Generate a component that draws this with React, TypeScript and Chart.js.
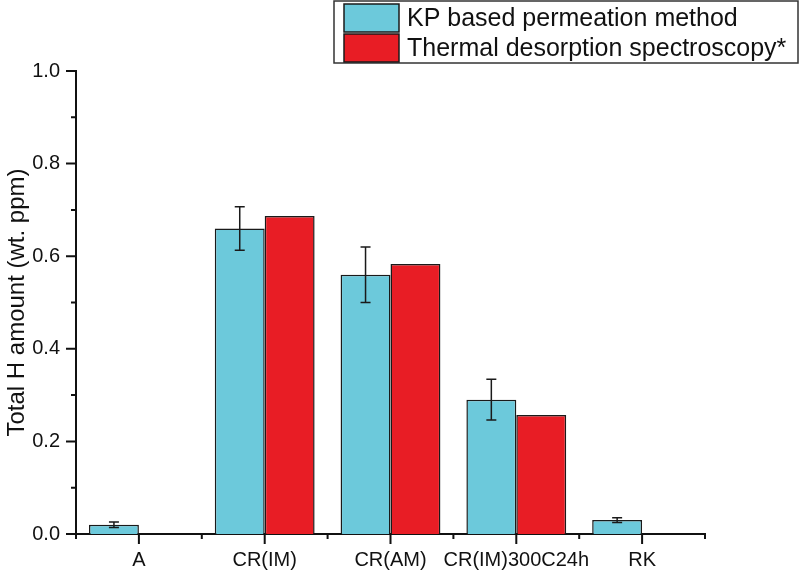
import React, { useEffect, useRef } from "react";
import { Chart, registerables } from "chart.js";

Chart.register(...registerables);

const categories = ["A", "CR(IM)", "CR(AM)", "CR(IM)300C24h", "RK"];
const kpValues = [0.02, 0.66, 0.56, 0.29, 0.03];
const kpErrors = [0.006, 0.047, 0.06, 0.044, 0.005];
const tdsValues: (number | null)[] = [null, 0.687, 0.583, 0.257, null];
const seriesLabels = ["KP based permeation method", "Thermal desorption spectroscopy*"];
const yTickValues = [0, 0.2, 0.4, 0.6, 0.8, 1.0];

const BLUE = "#6CC9DB";
const RED = "#E81D25";
const EDGE = "#1a1a1a";
const FONT = "'Liberation Sans', Arial, sans-serif";

const errorBarPlugin = {
  id: "errorBars",
  afterDatasetsDraw(chart: any) {
    const ctx = chart.ctx;
    const y = chart.scales.y;
    chart.data.datasets.forEach((ds: any, di: number) => {
      if (!ds.errors) return;
      const meta = chart.getDatasetMeta(di);
      meta.data.forEach((bar: any, i: number) => {
        const v = ds.data[i];
        const e = ds.errors[i];
        if (v == null || e == null) return;
        const yTop = y.getPixelForValue(v + e);
        const yBot = y.getPixelForValue(v - e);
        const x = bar.x;
        ctx.save();
        ctx.strokeStyle = EDGE;
        ctx.lineWidth = 1.5;
        ctx.beginPath();
        ctx.moveTo(x, yTop);
        ctx.lineTo(x, yBot);
        ctx.moveTo(x - 5, yTop);
        ctx.lineTo(x + 5, yTop);
        ctx.moveTo(x - 5, yBot);
        ctx.lineTo(x + 5, yBot);
        ctx.stroke();
        ctx.restore();
      });
    });
  },
};

const axisTicksPlugin = {
  id: "axisTicks",
  afterDraw(chart: any) {
    const ctx = chart.ctx;
    const xs = chart.scales.x;
    const ys = chart.scales.y;
    const area = chart.chartArea;
    ctx.save();
    ctx.strokeStyle = "#111";
    ctx.lineWidth = 2;
    ctx.beginPath();
    for (let i = 0; i < yTickValues.length; i++) {
      const py = ys.getPixelForValue(yTickValues[i]);
      ctx.moveTo(area.left - 10, py);
      ctx.lineTo(area.left, py);
      if (i < yTickValues.length - 1) {
        const pm = ys.getPixelForValue((yTickValues[i] + yTickValues[i + 1]) / 2);
        ctx.moveTo(area.left - 5, pm);
        ctx.lineTo(area.left, pm);
      }
    }
    for (let i = 0; i < categories.length; i++) {
      const px = xs.getPixelForValue(i);
      ctx.moveTo(px, area.bottom);
      ctx.lineTo(px, area.bottom + 10);
    }
    for (let i = 0; i <= categories.length; i++) {
      const px = xs.getPixelForValue(i - 0.5);
      ctx.moveTo(px, area.bottom);
      ctx.lineTo(px, area.bottom + 5);
    }
    ctx.stroke();
    ctx.restore();
  },
};

const boxLegendPlugin = {
  id: "boxLegend",
  afterDraw(chart: any) {
    const ctx = chart.ctx;
    const left = 334;
    const top = 1;
    const right = 798;
    const bottom = 63;
    ctx.save();
    ctx.fillStyle = "#fff";
    ctx.fillRect(left, top, right - left, bottom - top);
    ctx.strokeStyle = "#333";
    ctx.lineWidth = 1.5;
    ctx.strokeRect(left, top, right - left, bottom - top);
    const colors = [BLUE, RED];
    const rowTops = [4, 34];
    ctx.font = `25px ${FONT}`;
    ctx.textBaseline = "middle";
    ctx.textAlign = "left";
    for (let i = 0; i < 2; i++) {
      ctx.fillStyle = colors[i];
      ctx.fillRect(344, rowTops[i], 55, 28);
      ctx.strokeStyle = EDGE;
      ctx.lineWidth = 1.5;
      ctx.strokeRect(344, rowTops[i], 55, 28);
      ctx.fillStyle = "#111";
      ctx.fillText(seriesLabels[i], 407, rowTops[i] + 15);
    }
    ctx.restore();
  },
};

export default function App() {
  const canvasRef = useRef<HTMLCanvasElement>(null);

  useEffect(() => {
    const canvas = canvasRef.current;
    if (!canvas) return;
    const chart = new Chart(canvas, {
      type: "bar",
      data: {
        labels: categories,
        datasets: [
          {
            label: seriesLabels[0],
            data: kpValues,
            errors: kpErrors,
            backgroundColor: BLUE,
            borderColor: EDGE,
            borderWidth: 1.5,
            categoryPercentage: 100 / 126,
            barPercentage: 1,
          } as any,
          {
            label: seriesLabels[1],
            data: tdsValues,
            backgroundColor: RED,
            borderColor: EDGE,
            borderWidth: 1.5,
            categoryPercentage: 100 / 126,
            barPercentage: 1,
          } as any,
        ],
      },
      options: {
        animation: false,
        responsive: false,
        maintainAspectRatio: false,
        layout: { padding: { top: 71, right: 95, left: 0, bottom: 0 } },
        plugins: {
          legend: { display: false },
          tooltip: { enabled: false },
        },
        scales: {
          x: {
            type: "category",
            grid: { display: false, drawTicks: false },
            border: { display: true, color: "#111", width: 2 },
            ticks: {
              color: "#111",
              font: { family: FONT, size: 20 },
              padding: 14,
              maxRotation: 0,
              autoSkip: false,
            },
            afterFit(scale: any) {
              scale.height = 39;
            },
          },
          y: {
            min: 0,
            max: 1.0,
            grid: { display: false, drawTicks: false },
            border: { display: true, color: "#111", width: 2 },
            ticks: {
              stepSize: 0.2,
              color: "#111",
              font: { family: FONT, size: 20 },
              padding: 16,
              callback: (v: any) => Number(v).toFixed(1),
            },
            title: {
              display: true,
              text: "Total H amount (wt. ppm)",
              color: "#111",
              font: { family: FONT, size: 24 },
              padding: { top: 3, bottom: 0 },
            },
            afterFit(scale: any) {
              scale.width = 76;
            },
          },
        },
      },
      plugins: [errorBarPlugin, axisTicksPlugin, boxLegendPlugin],
    });
    return () => chart.destroy();
  }, []);

  return (
    <div style={{ position: "fixed", left: 0, top: 0, width: 800, height: 573, background: "#fff" }}>
      <canvas ref={canvasRef} width={800} height={573} style={{ width: 800, height: 573, display: "block" }} />
    </div>
  );
}
